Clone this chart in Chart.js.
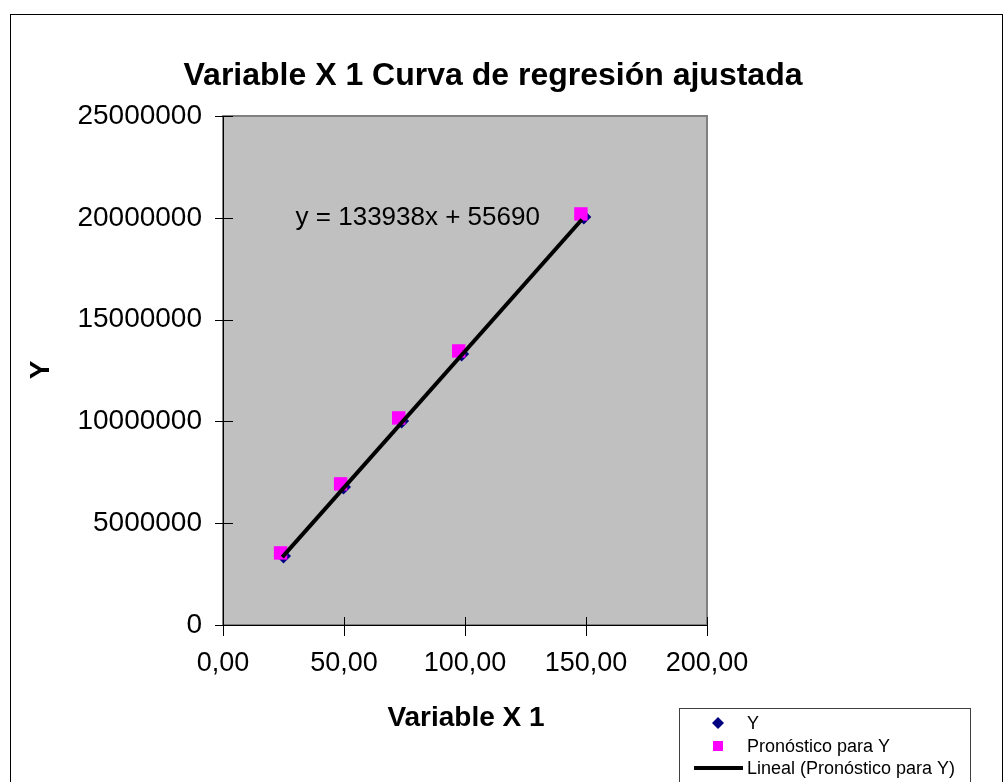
<!DOCTYPE html>
<html>
<head>
<meta charset="utf-8">
<title>Variable X 1 Curva de regresión ajustada</title>
<script src="https://cdn.jsdelivr.net/npm/chart.js@4.4.1/dist/chart.umd.min.js"></script>
<style>
  html, body { margin: 0; padding: 0; background: #fff; }
  #chart { display: block; }
</style>
</head>
<body>
<canvas id="chart" width="1005" height="782"></canvas>
<script>
const FONT = "'Liberation Sans', Arial, sans-serif";

// observed values (Y) and the forecast for Y
const xObserved = [25.0, 49.8, 73.8, 98.6, 149.1];
const yObserved = [3390000, 6780000, 10020000, 13310000, 20040000];
const xForecast = [23.8, 48.6, 72.6, 97.4, 147.9];
const yForecast = [3540000, 6930000, 10170000, 13460000, 20190000];

// linear trend y = 133938x + 55690, drawn between its two ends
const trendX = [24.5, 148.3];
const trendY = [3337171, 19918695];
const trendLabel = 'y = 133938x + 55690';

const xTicks = [0, 50, 100, 150, 200];
const yTicks = [0, 5000000, 10000000, 15000000, 20000000, 25000000];

const toPoints = (xs, ys) => xs.map((x, i) => ({ x, y: ys[i] }));

// grey plot area, outer frame, titles, crossing tick marks
const excelFrame = {
    id: 'excelFrame',
    beforeDraw(chart) {
        const { ctx, chartArea: a } = chart;
        ctx.save();
        ctx.fillStyle = '#fff';
        ctx.fillRect(0, 0, chart.width, chart.height);

        ctx.strokeStyle = '#000';
        ctx.lineWidth = 1;
        ctx.strokeRect(10.5, 14.5, 992, 800);

        ctx.fillStyle = '#c0c0c0';
        ctx.fillRect(a.left, a.top, a.right - a.left, a.bottom - a.top);
        ctx.strokeStyle = '#808080';
        ctx.lineWidth = 2;
        ctx.strokeRect(a.left, a.top, a.right - a.left, a.bottom - a.top);

        ctx.strokeStyle = '#000';
        ctx.lineWidth = 1;
        ctx.beginPath();
        ctx.moveTo(a.left + 0.5, a.top);
        ctx.lineTo(a.left + 0.5, a.bottom + 0.5);
        ctx.lineTo(a.right, a.bottom + 0.5);
        const xs = chart.scales.x, ys = chart.scales.y;
        xTicks.forEach(v => {
            const px = Math.round(xs.getPixelForValue(v)) + 0.5;
            ctx.moveTo(px, a.bottom - 8);
            ctx.lineTo(px, a.bottom + 11);
        });
        yTicks.forEach(v => {
            const py = Math.round(ys.getPixelForValue(v)) + 0.5;
            ctx.moveTo(a.left - 8, py);
            ctx.lineTo(a.left + 10, py);
        });
        ctx.stroke();

        ctx.fillStyle = '#000';
        ctx.textAlign = 'center';
        ctx.textBaseline = 'middle';
        ctx.font = 'bold 32px ' + FONT;
        ctx.fillText('Variable X 1 Curva de regresión ajustada', 493, 76);
        ctx.font = 'bold 28px ' + FONT;
        ctx.fillText('Variable X 1', 466, 718);
        ctx.translate(41, 370);
        ctx.rotate(-Math.PI / 2);
        ctx.fillText('Y', 0, 0);
        ctx.restore();
    },
    afterDatasetsDraw(chart) {
        const { ctx } = chart;
        const xs = chart.scales.x, ys = chart.scales.y;
        ctx.save();
        ctx.fillStyle = '#000';
        ctx.font = '26px ' + FONT;
        ctx.textAlign = 'left';
        ctx.textBaseline = 'middle';
        ctx.fillText(trendLabel, xs.getPixelForValue(30), ys.getPixelForValue(20000000));
        ctx.restore();
    },
    afterDraw(chart) {
        const { ctx } = chart;
        const ds = chart.data.datasets;
        ctx.save();
        ctx.fillStyle = '#fff';
        ctx.fillRect(679, 708, 291, 90);
        ctx.strokeStyle = '#404040';
        ctx.lineWidth = 1;
        ctx.strokeRect(679.5, 708.5, 291, 90);

        const mx = 718, rows = [723, 746, 768];
        // diamond
        ctx.fillStyle = ds[0].backgroundColor;
        ctx.beginPath();
        ctx.moveTo(mx - 6, rows[0]);
        ctx.lineTo(mx, rows[0] - 6);
        ctx.lineTo(mx + 6, rows[0]);
        ctx.lineTo(mx, rows[0] + 6);
        ctx.closePath();
        ctx.fill();
        // square
        ctx.fillStyle = ds[1].backgroundColor;
        ctx.fillRect(mx - 5, rows[1] - 5, 10, 10);
        // line
        ctx.strokeStyle = ds[2].borderColor;
        ctx.lineWidth = ds[2].borderWidth;
        ctx.beginPath();
        ctx.moveTo(694, rows[2]);
        ctx.lineTo(743, rows[2]);
        ctx.stroke();

        ctx.fillStyle = '#000';
        ctx.font = '18px ' + FONT;
        ctx.textAlign = 'left';
        ctx.textBaseline = 'middle';
        ds.forEach((d, i) => ctx.fillText(d.label, 747, rows[i] + 1));
        ctx.restore();
    }
};

new Chart(document.getElementById('chart'), {
    type: 'scatter',
    data: {
        datasets: [
            {
                label: 'Y',
                data: toPoints(xObserved, yObserved),
                pointStyle: 'rectRot',
                pointRadius: 7.5,
                pointHoverRadius: 7.5,
                borderWidth: 0,
                backgroundColor: '#000080',
                borderColor: '#000080',
                order: 2
            },
            {
                label: 'Pronóstico para Y',
                data: toPoints(xForecast, yForecast),
                pointStyle: 'rect',
                pointRadius: 9.5,
                pointHoverRadius: 9.5,
                borderWidth: 0,
                backgroundColor: '#ff00ff',
                borderColor: '#ff00ff',
                order: 1
            },
            {
                label: 'Lineal (Pronóstico para Y)',
                data: toPoints(trendX, trendY),
                showLine: true,
                pointRadius: 0,
                borderColor: '#000',
                backgroundColor: '#000',
                borderWidth: 4,
                order: 0
            }
        ]
    },
    options: {
        responsive: false,
        devicePixelRatio: 1,
        animation: false,
        layout: { padding: { top: 116, right: 298, left: 0, bottom: 0 } },
        plugins: {
            legend: { display: false },
            tooltip: { enabled: false }
        },
        scales: {
            x: {
                type: 'linear',
                min: 0,
                max: 200,
                grid: { display: false },
                border: { display: false },
                afterBuildTicks: s => { s.ticks = xTicks.map(v => ({ value: v })); },
                afterFit: s => { s.height = 157; },
                ticks: {
                    autoSkip: false,
                    maxRotation: 0,
                    padding: 14,
                    color: '#000',
                    font: { family: FONT, size: 27 },
                    callback: v => v.toFixed(2).replace('.', ',')
                }
            },
            y: {
                type: 'linear',
                min: 0,
                max: 25000000,
                grid: { display: false },
                border: { display: false },
                afterBuildTicks: s => { s.ticks = yTicks.map(v => ({ value: v })); },
                afterFit: s => { s.width = 223; },
                ticks: {
                    autoSkip: false,
                    padding: 13,
                    color: '#000',
                    font: { family: FONT, size: 28 },
                    callback: v => String(v)
                }
            }
        }
    },
    plugins: [excelFrame]
});
</script>
</body>
</html>
